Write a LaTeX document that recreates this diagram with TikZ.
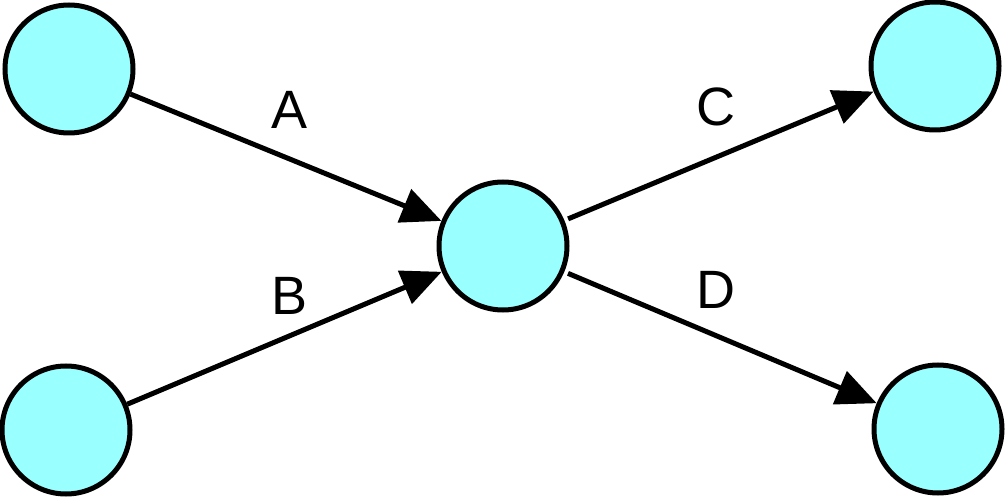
\documentclass[tikz,border=0pt]{standalone}
\usepackage{fontspec}
\setmainfont{Liberation Sans}
\usetikzlibrary{arrows.meta}
\definecolor{nodefill}{RGB}{153,255,255}
\begin{document}
\begin{tikzpicture}[x=1pt,y=-1pt,
  vtx/.style={circle,draw=black,fill=nodefill,line width=5pt,minimum size=128pt,inner sep=0pt},
  conn/.style={line width=5pt,-{Triangle[length=40pt,width=35pt]}},
  lbl/.style={font=\fontsize{54pt}{60pt}\selectfont,inner sep=0pt}]
\useasboundingbox (0,0) rectangle (1005,497);
\node[vtx] (tl) at (69,69) {};
\node[vtx] (bl) at (66,430) {};
\node[vtx] (mid) at (503,246) {};
\node[vtx] (tr) at (935,66) {};
\node[vtx] (br) at (938,429) {};
\draw[conn] (tl) -- (mid);
\draw[conn] (bl) -- (mid);
\draw[conn,shorten <=4pt] (mid) -- (tr);
\draw[conn,shorten <=4pt] (mid) -- (br);
\node[lbl] (la) at (290,110) {A};
\node[lbl] (lb) at (290,296) {B};
\node[lbl] (lc) at (716,107) {C};
\node[lbl] (ld) at (716,290) {D};
\end{tikzpicture}
\end{document}
